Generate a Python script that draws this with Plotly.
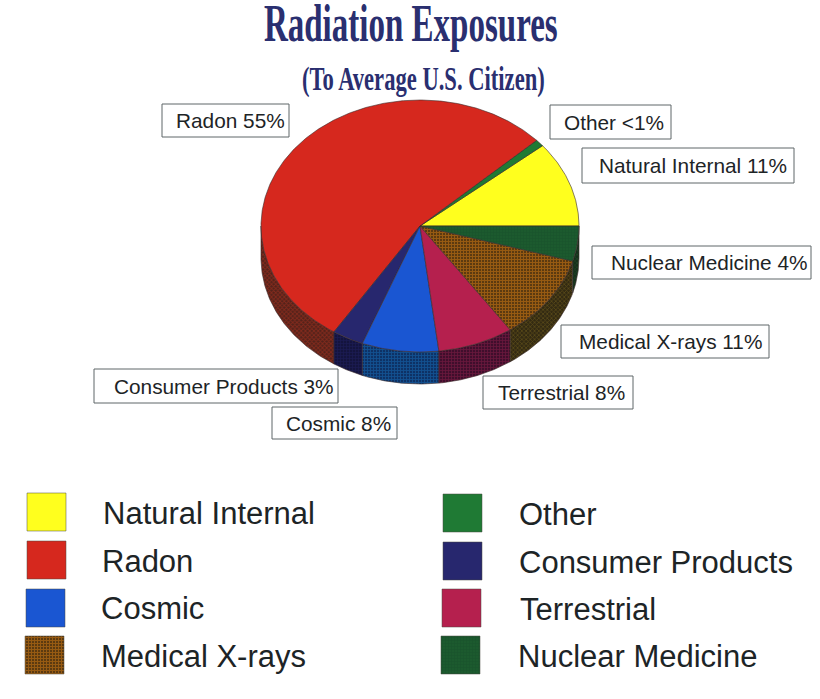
import math
import plotly.graph_objects as go

# ---- data -----------------------------------------------------------------
categories = ["Natural Internal", "Other", "Radon", "Consumer Products",
              "Cosmic", "Terrestrial", "Medical X-rays", "Nuclear Medicine"]
# slice shares as drawn (percent), counter-clockwise from the 3 o'clock position
shares = [11.0, 0.9, 54.0, 3.2, 7.8, 7.7, 10.9, 4.5]
slice_labels = ["Natural Internal 11%", "Other <1%", "Radon 55%", "Consumer Products 3%",
                "Cosmic 8%", "Terrestrial 8%", "Medical X-rays 11%", "Nuclear Medicine 4%"]
title_main = "Radiation Exposures"
title_sub = "(To Average U.S. Citizen)"
legend_left = ["Natural Internal", "Radon", "Cosmic", "Medical X-rays"]
legend_right = ["Other", "Consumer Products", "Terrestrial", "Nuclear Medicine"]

# ---- styles ---------------------------------------------------------------
SERIF = "Liberation Serif"
SANS = "Liberation Sans"
INK = "#1d2426"
TITLE = "#2a2f70"
top_fill = {"Natural Internal": "#ffff1e", "Other": "#1f7a34", "Radon": "#d6281e",
            "Consumer Products": "#27276e", "Cosmic": "#1a56d2", "Terrestrial": "#b5204e",
            "Medical X-rays": "#5c3a10", "Nuclear Medicine": "#1c5a2e"}
top_pattern = {"Medical X-rays": ("+", "#d27c14", 3, 0.55),
               "Nuclear Medicine": ("+", "#14482a", 3, 0.3)}
side_fill = {"Radon": "#52221a", "Consumer Products": "#14143e", "Cosmic": "#0e3266",
             "Terrestrial": "#400e2c", "Medical X-rays": "#332a12", "Nuclear Medicine": "#16301c",
             "Other": "#16301c", "Natural Internal": "#4a4a10"}
side_pattern = {"Radon": ("x", "#b8321e", 3, 0.5), "Consumer Products": ("+", "#24246a", 3, 0.4),
                "Cosmic": ("+", "#1670ba", 3, 0.5), "Terrestrial": ("+", "#94204c", 3, 0.45),
                "Medical X-rays": ("x", "#80681f", 3, 0.45), "Nuclear Medicine": ("x", "#2a5a30", 3, 0.4),
                "Other": ("x", "#2a5a30", 3, 0.4), "Natural Internal": ("x", "#8a8a20", 3, 0.4)}

# ---- geometry of the tilted pie on a page-sized axis ----------------------
CX, CY, RX, RY, DEPTH = 420, 226, 159, 126, 32


def rim(a_deg):
    a = math.radians(a_deg)
    return CX + RX * math.cos(a), CY - RY * math.sin(a)


def arc(a0, a1):
    n = max(2, int(abs(a1 - a0) * 2) + 1)
    return [rim(a0 + (a1 - a0) * i / (n - 1)) for i in range(n)]


def pattern(spec):
    if not spec:
        return None
    shape, fg, size, solidity = spec
    return dict(shape=shape, fgcolor=fg, size=size, solidity=solidity, fillmode="overlay")


def poly(points, name, fill, patt, line="#3a2a2a", width=0.6):
    xs = [p[0] for p in points] + [points[0][0]]
    ys = [p[1] for p in points] + [points[0][1]]
    kw = dict(fillpattern=patt) if patt else {}
    return go.Scatter(x=xs, y=ys, mode="lines", fill="toself", fillcolor=fill, name=name,
                      line=dict(color=line, width=width), hoverinfo="name", showlegend=False, **kw)


fig = go.Figure()
total = sum(shares)
start = 0.0
top_traces = []
for cat, share in zip(categories, shares):
    end = start + share / total * 360
    lo, hi = max(start, 180), min(end, 360)
    if hi > lo:
        upper = arc(lo, hi)
        lower = [(x, y + DEPTH) for x, y in reversed(upper)]
        fig.add_trace(poly(upper + lower, cat + " (side)", side_fill[cat], pattern(side_pattern.get(cat))))
    top_traces.append(poly([(CX, CY)] + arc(start, end), cat, top_fill[cat], pattern(top_pattern.get(cat))))
    start = end
for t in top_traces:
    fig.add_trace(t)

# ---- label boxes (left, right, top, bottom, text-left) ---------------------
box_layout = {
    "Radon 55%": (162, 289, 104, 137, 175),
    "Other <1%": (550, 671, 105, 139, 563),
    "Natural Internal 11%": (582, 794, 148, 183, 598),
    "Nuclear Medicine 4%": (592, 811, 246, 279, 610),
    "Medical X-rays 11%": (561, 769, 325, 358, 578),
    "Terrestrial 8%": (483, 633, 376, 409, 497),
    "Consumer Products 3%": (94, 338, 369, 403, 113),
    "Cosmic 8%": (272, 397, 407, 439, 285),
}
shapes, annotations = [], []
for text in slice_labels:
    x0, x1, y0, y1, tx = box_layout[text]
    shapes.append(dict(type="rect", xref="x", yref="y", x0=x0, x1=x1, y0=y0, y1=y1,
                       line=dict(color="#5e6668", width=1), fillcolor="rgba(255,255,255,0)", layer="above"))
    annotations.append(dict(x=tx, y=(y0 + y1) / 2, xref="x", yref="y", text=text, showarrow=False,
                            xanchor="left", yanchor="middle", xshift=-1,
                            font=dict(family=SANS, size=20.8, color=INK)))

# ---- colour key -----------------------------------------------------------
left_swatch_x = [27, 27, 26, 25]
right_swatch_x = [443, 443, 442, 441]
left_swatch_y = [493, 541, 589, 636]
right_swatch_y = [494, 542, 589, 636]
left_text_x = [104, 103, 102, 102]
right_text_x = [520, 520, 521, 519]
left_base = [524, 572, 619, 667]
right_base = [525, 573, 620, 667]
for names, sx, sy, tx, base in ((legend_left, left_swatch_x, left_swatch_y, left_text_x, left_base),
                                (legend_right, right_swatch_x, right_swatch_y, right_text_x, right_base)):
    for name, x, y, t, b in zip(names, sx, sy, tx, base):
        square = [(x, y), (x + 39, y), (x + 39, y + 38), (x, y + 38)]
        fig.add_trace(poly(square, name + " (key)", top_fill[name], pattern(top_pattern.get(name)),
                           line="#4a4a40", width=0.5))
        annotations.append(dict(x=t, y=b - 11, xref="x", yref="y", text=name, showarrow=False,
                                xanchor="left", yanchor="middle", xshift=-3,
                                font=dict(family=SANS, size=31, color=INK)))

# ---- titles ---------------------------------------------------------------
annotations.append(dict(x=411, y=26, xref="x", yref="y", text="<b>%s</b>" % title_main, showarrow=False,
                        xanchor="center", yanchor="middle", font=dict(family=SERIF, size=44, color=TITLE)))
annotations.append(dict(x=423, y=79, xref="x", yref="y", text="<b>%s</b>" % title_sub, showarrow=False,
                        xanchor="center", yanchor="middle", font=dict(family=SERIF, size=33, color=TITLE)))

fig.update_layout(
    width=820, height=699, autosize=False,
    margin=dict(l=0, r=0, t=0, b=0),
    paper_bgcolor="white", plot_bgcolor="white",
    xaxis=dict(range=[0, 820], visible=False, fixedrange=True),
    yaxis=dict(range=[699, 0], visible=False, fixedrange=True),
    shapes=shapes, annotations=annotations, showlegend=False,
)

# page margin off; the printed title is set in a condensed face: squeeze the serif to the same widths
post = """
document.documentElement.style.overflow = 'hidden';
document.body.style.margin = '0';
var fit = {'Radiation Exposures': [294, 1.2], '(To Average U.S. Citizen)': [243, 1]};
document.querySelectorAll('.annotation-text').forEach(function (t) {
  var w = fit[t.textContent];
  if (w) {
    var b = t.getBBox();
    var c = b.x + b.width / 2;
    var base = b.y + b.height * 0.8;
    t.setAttribute('transform', 'translate(' + c + ',' + base + ') scale(' + (w[0] / b.width) + ',' + w[1] + ') translate(' + (-c) + ',' + (-base) + ')');
  }
});
"""
fig.write_html("out.html", post_script=post, config=dict(displayModeBar=False))
